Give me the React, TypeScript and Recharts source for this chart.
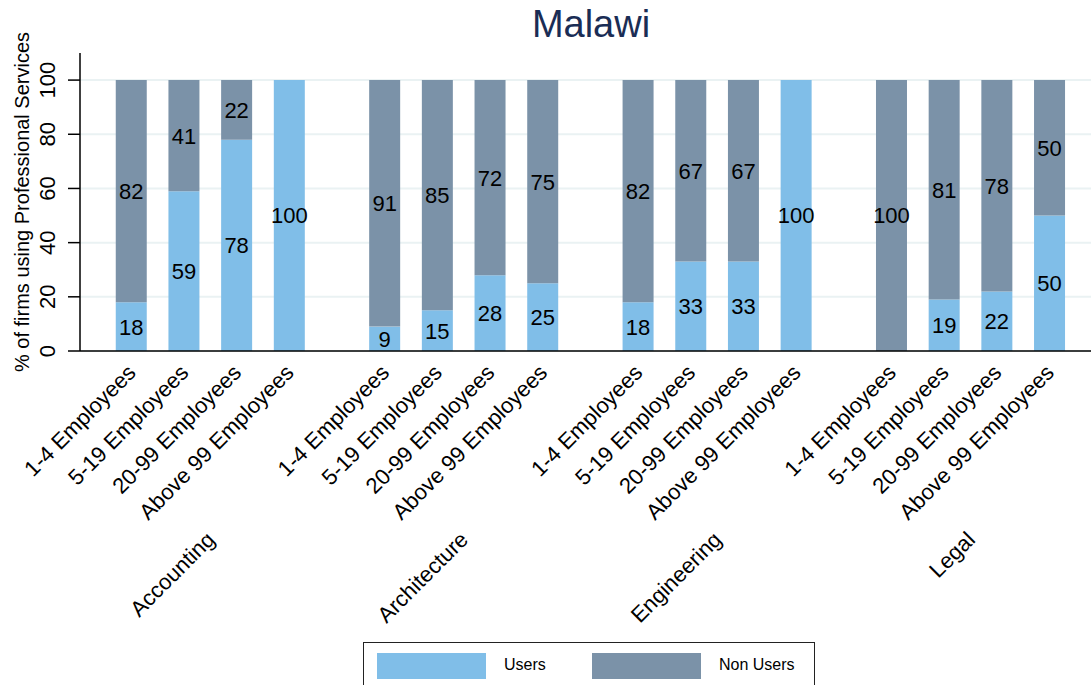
import React from "react"
import { BarChart, Bar, XAxis, YAxis, CartesianGrid, LabelList } from "recharts"

const sectors = ["Accounting", "Architecture", "Engineering", "Legal"]
const sizes = ["1-4 Employees", "5-19 Employees", "20-99 Employees", "Above 99 Employees"]

// one value per bar, sector by sector
const users = [18, 59, 78, 100, 9, 15, 28, 25, 18, 33, 33, 100, 0, 19, 22, 50]
const nonUsers = [82, 41, 22, 0, 91, 85, 72, 75, 82, 67, 67, 0, 100, 81, 78, 50]

const yTicks = [0, 20, 40, 60, 80, 100]

const USERS = "#80bee8"
const NON_USERS = "#7b92a8"
const FONT = "'Liberation Sans', Arial, sans-serif"

// gap between sectors, in bar slots
const groupStride = 4.81

const data = users.map((u, i) => {
  const g = Math.floor(i / sizes.length)
  const s = i % sizes.length
  return {
    x: g * groupStride + s,
    size: sizes[s],
    sector: sectors[g],
    users: u,
    nonUsers: nonUsers[i],
  }
})

const barTicks = data.map((d) => d.x)
const groupTicks = sectors.map((_, g) => g * groupStride + (sizes.length - 1) / 2)

const SizeTick = (props: any) => {
  const { x, y, payload } = props
  const row = data.find((d) => Math.abs(d.x - payload.value) < 1e-6)
  return (
    <text
      x={x + 6}
      y={y + 15}
      transform={`rotate(-45, ${x + 6}, ${y + 15})`}
      textAnchor="end"
      fontSize={22}
      fontFamily={FONT}
      fill="#000"
    >
      {row ? row.size : ""}
    </text>
  )
}

const SectorTick = (props: any) => {
  const { x, y, payload } = props
  const g = groupTicks.findIndex((t) => Math.abs(t - payload.value) < 1e-6)
  return (
    <text
      x={x + 6}
      y={y + 12}
      transform={`rotate(-45, ${x + 6}, ${y + 12})`}
      textAnchor="end"
      fontSize={22}
      fontFamily={FONT}
      fill="#000"
    >
      {g >= 0 ? sectors[g] : ""}
    </text>
  )
}

const YTick = (props: any) => {
  const { y, payload } = props
  return (
    <text
      x={55}
      y={y}
      transform={`rotate(-90, 55, ${y})`}
      textAnchor="middle"
      fontSize={22}
      fontFamily={FONT}
      fill="#000"
    >
      {payload.value}
    </text>
  )
}

const segLabel = (props: any) => {
  const { x, y, width, height, value } = props
  if (!value) return null
  return (
    <text
      x={x + width / 2}
      y={y + height / 2}
      dy="0.36em"
      textAnchor="middle"
      fontSize={22}
      fontFamily={FONT}
      fill="#000"
    >
      {value}
    </text>
  )
}

const YTitle = (props: any) => {
  const { viewBox } = props
  const cy = viewBox.y + viewBox.height / 2
  return (
    <text
      x={29}
      y={cy}
      transform={`rotate(-90, 29, ${cy})`}
      textAnchor="middle"
      fontSize={20}
      fontFamily={FONT}
      fill="#000"
    >
      % of firms using Professional Services
    </text>
  )
}

export default function App() {
  return (
    <div style={{ position: "absolute", left: 0, top: 0, width: 1091, height: 685, background: "#fff", fontFamily: FONT }}>
      <div
        style={{
          position: "absolute",
          left: 0,
          width: 1182,
          top: 3,
          textAlign: "center",
          fontSize: 38,
          color: "#1a2d55",
        }}
      >
        Malawi
      </div>
      <BarChart width={1091} height={685} data={data} margin={{ top: 53, right: 0, left: 0, bottom: 0 }}>
        <CartesianGrid horizontal vertical={false} horizontalValues={yTicks} stroke="#eaf2f3" strokeWidth={2} />
        <XAxis
          xAxisId="b"
          dataKey="x"
          type="number"
          domain={[-0.97, 18.22]}
          ticks={groupTicks}
          interval={0}
          tick={<SectorTick />}
          tickLine={false}
          axisLine={false}
          height={164}
        />
        <XAxis
          xAxisId="a"
          dataKey="x"
          type="number"
          domain={[-0.97, 18.22]}
          ticks={barTicks}
          interval={0}
          tick={<SizeTick />}
          tickLine={false}
          axisLine={{ stroke: "#000", strokeWidth: 1.5 }}
          height={170}
        />
        <YAxis
          type="number"
          domain={[0, 110]}
          ticks={yTicks}
          width={80}
          tickSize={12}
          tick={<YTick />}
          tickLine={{ stroke: "#000", strokeWidth: 1.5 }}
          axisLine={{ stroke: "#000", strokeWidth: 1.5 }}
          label={<YTitle />}
        />
        <Bar xAxisId="a" dataKey="users" stackId="s" fill={USERS} barSize={31} isAnimationActive={false}>
          <LabelList dataKey="users" content={segLabel} />
        </Bar>
        <Bar xAxisId="a" dataKey="nonUsers" stackId="s" fill={NON_USERS} barSize={31} isAnimationActive={false}>
          <LabelList dataKey="nonUsers" content={segLabel} />
        </Bar>
      </BarChart>
      <div
        style={{
          position: "absolute",
          left: 363,
          top: 642,
          width: 452,
          height: 60,
          border: "1.5px solid #222",
          boxSizing: "border-box",
        }}
      >
        {[
          { name: "Users", color: USERS, left: 13, textLeft: 140 },
          { name: "Non Users", color: NON_USERS, left: 228, textLeft: 355 },
        ].map((item) => (
          <React.Fragment key={item.name}>
            <div
              style={{
                position: "absolute",
                left: item.left,
                top: 10,
                width: 109,
                height: 26,
                background: item.color,
              }}
            />
            <div style={{ position: "absolute", left: item.textLeft, top: 13, fontSize: 16, color: "#000" }}>
              {item.name}
            </div>
          </React.Fragment>
        ))}
      </div>
    </div>
  )
}
